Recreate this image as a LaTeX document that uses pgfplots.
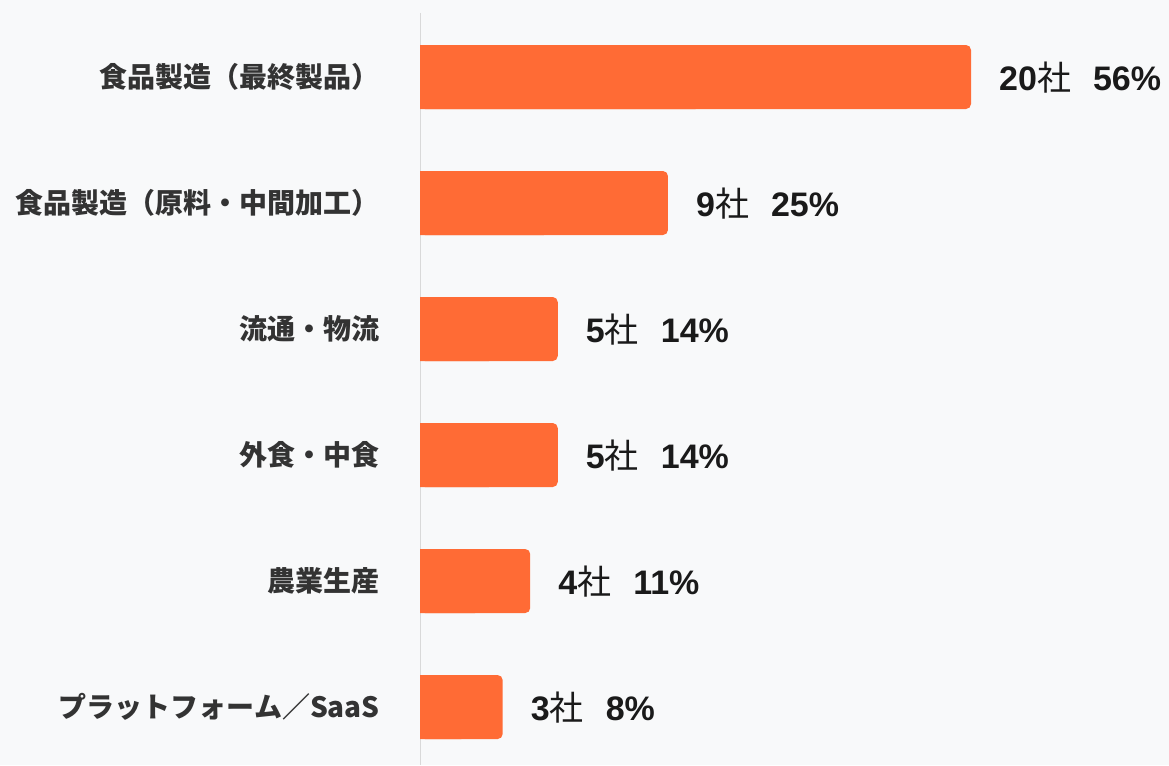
\documentclass[border=0pt]{standalone}
\usepackage{fontspec}
\setmainfont{Liberation Sans}
\newfontfamily\cjk{Noto Sans CJK JP}
\usepackage{pgfplots}
\pgfplotsset{compat=1.18}
\usepackage{pgfplotstable}

\definecolor{bg}{HTML}{F8F9FA}
\definecolor{barc}{HTML}{FF6B35}
\definecolor{lab}{HTML}{333333}
\definecolor{val}{HTML}{1A1A1A}
\definecolor{axl}{HTML}{D9D9D9}

\pgfplotstableread{
idx n p
0 20 56
1 9 25
2 5 14
3 5 14
4 4 11
5 3 8
}\data

\begin{document}
\begin{tikzpicture}[x=1pt,y=1pt]
\fill[bg] (0,0) rectangle (1169,765);
\begin{axis}[
 at={(420pt,0pt)}, anchor=south west,
 scale only axis, width=749pt, height=752pt,
 xmin=0, xmax=27.187,
 ymin=-0.508, ymax=5.46, y dir=reverse,
 clip=false,
 hide x axis,
 axis y line*=left,
 y axis line style={draw=axl, line width=1pt, -},
 ytick={0,1,2,3,4,5},
 yticklabels={食品製造（最終製品）,食品製造（原料・中間加工）,流通・物流,外食・中食,農業生産,プラットフォーム／SaaS},
 major tick length=0pt,
 ytick style={draw=none},
 yticklabel style={font=\cjk\bfseries\fontsize{28}{32}\selectfont, text=lab, anchor=east, inner sep=0pt, xshift=-40pt},
 /pgf/number format/assume math mode=true,
]
\addplot[xbar, bar shift=0pt, bar width=64pt, fill=barc, draw=none, rounded corners=5pt,
  point meta=explicit,
  visualization depends on={x \as \cnt},
  nodes near coords={\pgfmathprintnumber{\cnt}{\cjk\mdseries 社}\hspace{22pt}\pgfmathprintnumber{\pgfplotspointmeta}\%},
  every node near coord/.append style={anchor=west, inner sep=0pt, xshift=28pt, yshift=-1pt, font=\bfseries\fontsize{34}{40}\selectfont, text=val},
 ] table[x=n, y=idx, meta=p]{\data};
\addplot[xbar, bar shift=0pt, bar width=64pt, fill=barc, draw=none]
  table[x expr=\thisrow{n}/2, y=idx]{\data};
\end{axis}
\end{tikzpicture}
\end{document}
